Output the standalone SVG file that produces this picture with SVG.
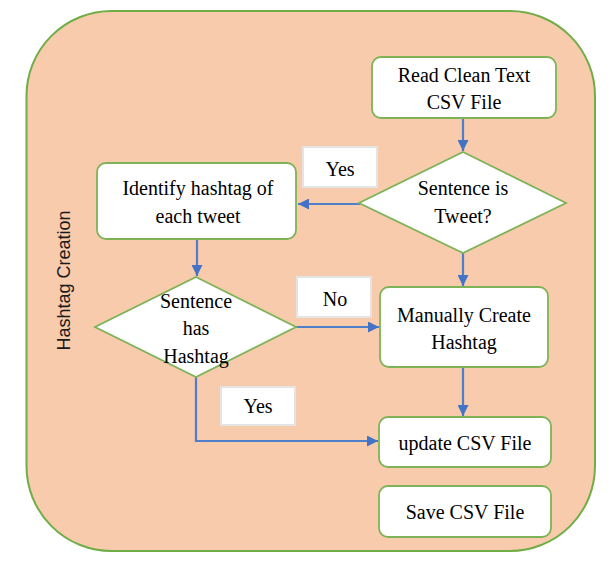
<svg xmlns="http://www.w3.org/2000/svg" width="611" height="561" viewBox="0 0 611 561">
<style>
.box{fill:#ffffff;stroke:#7DB356;stroke-width:1.8}
.dia{fill:#ffffff;stroke:#7DB356;stroke-width:1.8}
.lbl{fill:#ffffff;stroke:#E4E4E4;stroke-width:2}
.t{font-family:"Liberation Serif","Times New Roman",serif;font-size:20px;fill:#000;text-anchor:middle}
.c{fill:none;stroke:#4F7FCB;stroke-width:2.2}
</style>
<defs>
<marker id="ah" viewBox="0 0 10 10" refX="10" refY="5" markerWidth="5" markerHeight="5" markerUnits="strokeWidth" orient="auto">
<path d="M0,0 L10,5 L0,10 Z" fill="#4472C4"/>
</marker>
</defs>
<g id="container">
<rect x="26.5" y="11" width="568.5" height="540" rx="85" ry="85" fill="#F7CBAC" stroke="#70AD47" stroke-width="2"/>
<text x="70" y="280.5" transform="rotate(-90 70 280.5)" font-family="'Liberation Sans',Arial,sans-serif" font-size="18" text-anchor="middle" fill="#1a1a1a">Hashtag Creation</text>
</g>
<g id="connectors">
<path class="c" d="M463,118 L463,151" marker-end="url(#ah)"/>
<path class="c" d="M360,204 L298,204" marker-end="url(#ah)"/>
<path class="c" d="M197,239 L197,276" marker-end="url(#ah)"/>
<path class="c" d="M463,253 L463,286" marker-end="url(#ah)"/>
<path class="c" d="M296,327 L379,327" marker-end="url(#ah)"/>
<path class="c" d="M463,367 L463,416" marker-end="url(#ah)"/>
<path class="c" d="M196,377 L196,441 L378,441" marker-end="url(#ah)"/>
</g>
<g id="read">
<rect class="box" x="372" y="57" width="184" height="61" rx="9"/>
<text class="t" x="464" y="82">Read Clean Text</text>
<text class="t" x="464" y="109">CSV File</text>
</g>
<g id="isTweet">
<polygon class="dia" points="463,152 566,203 463,253 359,203"/>
<text class="t" x="463" y="195">Sentence is</text>
<text class="t" x="463" y="223">Tweet?</text>
</g>
<g id="yes1">
<rect class="lbl" x="303" y="147" width="74" height="40"/>
<text class="t" x="340" y="176">Yes</text>
</g>
<g id="identify">
<rect class="box" x="97" y="163" width="199" height="76" rx="9"/>
<text class="t" x="198" y="195">Identify hashtag of</text>
<text class="t" x="198" y="223">each tweet</text>
</g>
<g id="hasHashtag">
<polygon class="dia" points="196,277 296,327 196,377 95,327"/>
<text class="t" x="196" y="308">Sentence</text>
<text class="t" x="196" y="335">has</text>
<text class="t" x="196" y="363">Hashtag</text>
</g>
<g id="no">
<rect class="lbl" x="297" y="277" width="74" height="40"/>
<text class="t" x="335" y="306">No</text>
</g>
<g id="manual">
<rect class="box" x="380" y="287" width="168" height="80" rx="9"/>
<text class="t" x="464" y="322">Manually Create</text>
<text class="t" x="464" y="349">Hashtag</text>
</g>
<g id="yes2">
<rect class="lbl" x="221" y="387" width="74" height="38"/>
<text class="t" x="258" y="413">Yes</text>
</g>
<g id="update">
<rect class="box" x="379" y="417" width="172" height="50" rx="9"/>
<text class="t" x="465" y="450">update CSV File</text>
</g>
<g id="save">
<rect class="box" x="379" y="486" width="172" height="51" rx="9"/>
<text class="t" x="465" y="519">Save CSV File</text>
</g>
</svg>
